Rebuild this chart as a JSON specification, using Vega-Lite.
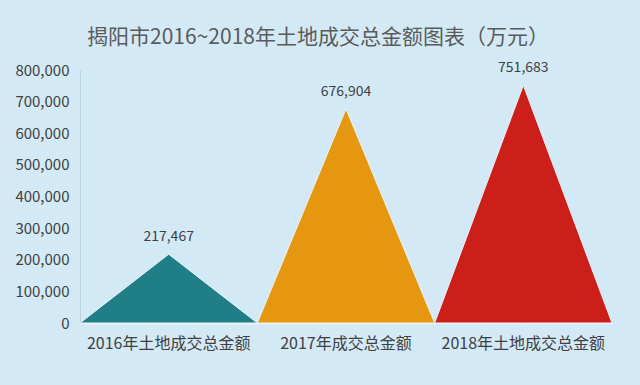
{
  "$schema": "https://vega.github.io/schema/vega-lite/v6.json",
  "autosize": {"type": "none"},
  "width": 532,
  "height": 253,
  "padding": {"left": 80, "top": 70, "right": 28, "bottom": 62},
  "background": "#d3eaf6",
  "title": {
    "text": "揭阳市2016~2018年土地成交总金额图表（万元）",
    "font": "Noto Sans CJK SC",
    "fontSize": 21,
    "fontWeight": "normal",
    "color": "#5a5a5a",
    "anchor": "middle",
    "frame": "group",
    "offset": 13,
    "dx": -28
  },
  "config": {
    "view": {"stroke": null},
    "font": "Noto Sans CJK SC"
  },
  "data": {
    "values": [
      {"category": "2016年土地成交总金额", "vertex": "a", "value": 0},
      {"category": "2016年土地成交总金额", "vertex": "b", "value": 217467},
      {"category": "2016年土地成交总金额", "vertex": "c", "value": 0},
      {"category": "2017年成交总金额", "vertex": "a", "value": 0},
      {"category": "2017年成交总金额", "vertex": "b", "value": 676904},
      {"category": "2017年成交总金额", "vertex": "c", "value": 0},
      {"category": "2018年土地成交总金额", "vertex": "a", "value": 0},
      {"category": "2018年土地成交总金额", "vertex": "b", "value": 751683},
      {"category": "2018年土地成交总金额", "vertex": "c", "value": 0}
    ]
  },
  "encoding": {
    "x": {
      "field": "category",
      "type": "nominal",
      "sort": null,
      "scale": {"paddingInner": 0, "paddingOuter": 0},
      "axis": {
        "title": null,
        "labelAngle": 0,
        "labelFontSize": 16,
        "labelColor": "#404040",
        "labelPadding": 12,
        "ticks": false,
        "domainColor": "#eef6fa",
        "domainWidth": 1.5
      }
    },
    "xOffset": {
      "field": "vertex",
      "type": "nominal",
      "scale": {"type": "point", "padding": 0}
    },
    "y": {
      "field": "value",
      "type": "quantitative",
      "scale": {"domain": [0, 800000]},
      "axis": {
        "title": null,
        "values": [0, 100000, 200000, 300000, 400000, 500000, 600000, 700000, 800000],
        "format": ",.0f",
        "grid": false,
        "ticks": false,
        "labelFontSize": 15,
        "labelColor": "#404040",
        "labelPadding": 11,
        "domainColor": "#b9d3df"
      }
    }
  },
  "layer": [
    {
      "mark": {"type": "area", "stroke": "#e8f3f8", "strokeWidth": 1},
      "encoding": {
        "detail": {"field": "category"},
        "color": {
          "field": "category",
          "type": "nominal",
          "sort": null,
          "scale": {"range": ["#1f7e86", "#e5970f", "#cc1f1a"]},
          "legend": null
        }
      }
    },
    {
      "transform": [{"filter": "datum.vertex == 'b'"}],
      "mark": {"type": "text", "dy": -17, "fontSize": 14, "color": "#404040"},
      "encoding": {
        "text": {"field": "value", "type": "quantitative", "format": ",.0f"}
      }
    }
  ]
}
